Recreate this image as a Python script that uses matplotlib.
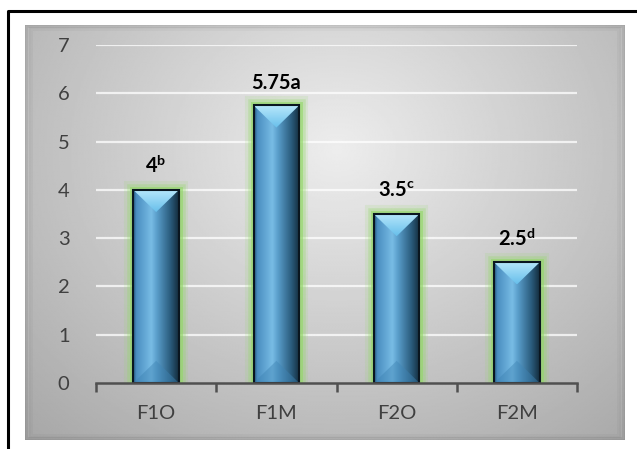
import matplotlib.pyplot as plt
import numpy as np
from matplotlib.colors import LinearSegmentedColormap
from matplotlib.patches import Rectangle, Polygon
from matplotlib.lines import Line2D

plt.rcParams['font.family'] = ['Lato', 'DejaVu Sans']
plt.rcParams['mathtext.fontset'] = 'custom'
plt.rcParams['mathtext.rm'] = 'Lato'
plt.rcParams['mathtext.bf'] = 'Lato:bold'

# data
groups = ['F1O', 'F1M', 'F2O', 'F2M']
values = [4, 5.75, 3.5, 2.5]
letters = ['b', 'a', 'c', 'd']
superscript = [True, False, True, True]

fig = plt.figure(figsize=(6.37, 4.49), dpi=100)
fig.patch.set_facecolor('white')

# grey panel with a radial shading
bg = fig.add_axes([25/637, 1 - 440/449, 600/637, 415/449])
yy, xx = np.mgrid[0:1:300j, 0:1:400j]
r = np.sqrt(((xx - 0.52) / 0.72) ** 2 + ((yy - 0.30) / 0.90) ** 2)
shade = 0.93 - 0.26 * np.clip(r, 0, 1.25)
bg.imshow(shade, cmap='gray', vmin=0, vmax=1, aspect='auto',
          extent=(0, 1, 1, 0), interpolation='bilinear')
bg.set_xlim(0, 1)
bg.set_ylim(1, 0)
bg.axis('off')
# soft edge of the panel
for i, a in enumerate([0.12, 0.08, 0.05, 0.03]):
    d = 0.004 * i
    bg.add_patch(Rectangle((d, d), 1 - 2 * d, 1 - 2 * d, fill=False,
                           ec='black', lw=1.2, alpha=a,
                           transform=bg.transAxes))

# frame on top and left
fig.add_artist(Line2D([8/637, 8/637, 1.0], [0.0, 1 - 11/449, 1 - 11/449],
                      color='black', lw=2.2, transform=fig.transFigure))

ax = fig.add_axes([96/637, 1 - 383/449, 481/637, 338/449])
ax.patch.set_alpha(0)
ax.set_xlim(-0.5, 3.5)
ax.set_ylim(0, 7)

for y in range(1, 8):
    ax.axhline(y, color='white', lw=1.6, alpha=0.75, zorder=1)

body_cmap = LinearSegmentedColormap.from_list('body', [
    (0.0, '#24527a'), (0.07, '#4a8ec0'), (0.40, '#78bce5'),
    (0.52, '#5a9ecb'), (0.82, '#2a5b7c'), (1.0, '#142c3c')])
top_cmap = LinearSegmentedColormap.from_list('tip', ['#68bfeb', '#b8e8fb'])

w = 0.38
d = 0.46
grad = np.linspace(0, 1, 200).reshape(1, -1)
for i, v in enumerate(values):
    x0, x1 = i - w / 2, i + w / 2
    # green glow
    for lw, a in [(13, 0.15), (9, 0.3), (5, 0.6)]:
        ax.bar(i, v, width=w, color='none', edgecolor='#92d866', lw=lw,
               alpha=a, zorder=2)
    rect = Rectangle((x0, 0), w, v, fc='none', ec='none', zorder=3)
    ax.add_patch(rect)
    im = ax.imshow(grad, cmap=body_cmap, aspect='auto',
                   extent=(x0, x1, 0, v), zorder=3, interpolation='bilinear')
    im.set_clip_path(rect)
    # bevel at the top
    tri = Polygon([(x0, v), (x1, v), (i, v - d)], closed=True,
                  fc='none', ec='none', zorder=4)
    ax.add_patch(tri)
    vert = np.linspace(0, 1, 100).reshape(-1, 1)
    tim = ax.imshow(vert, cmap=top_cmap, aspect='auto',
                    extent=(x0, x1, v - d, v), origin='lower', zorder=4)
    tim.set_clip_path(tri)
    # bevel at the bottom
    ax.add_patch(Polygon([(x0, 0), (x1, 0), (i, d)], closed=True,
                         fc='#3f84b4', ec='none', alpha=0.45, zorder=4))
    ax.add_patch(Rectangle((x0, 0), w, v, fc='none', ec='#0a1620',
                           lw=1.5, zorder=5))

    if superscript[i]:
        label = r'$\mathbf{%g}^{\mathbf{%s}}$' % (v, letters[i])
    else:
        label = '%g%s' % (v, letters[i])
    ax.annotate(label, (i, v), xytext=(0, 9), textcoords='offset points',
                ha='center', va='bottom', fontsize=14.5, fontweight='bold',
                color='black', zorder=6)

ax.set_xticks(range(len(groups)))
ax.set_xticklabels(groups)
ax.set_xticks(np.arange(-0.5, 4, 1), minor=True)
ax.set_yticks(range(0, 8))
ax.tick_params(axis='x', which='major', length=0, pad=16, labelsize=14.5,
               labelcolor='#404040')
ax.tick_params(axis='x', which='minor', length=6.5, width=1.8,
               color='#505050', direction='out')
ax.tick_params(axis='y', length=0, pad=19, labelsize=14.5, labelcolor='#404040')
for s in ['top', 'right', 'left']:
    ax.spines[s].set_visible(False)
ax.spines['bottom'].set_color('#505050')
ax.spines['bottom'].set_linewidth(1.8)
ax.spines['bottom'].set_zorder(7)

fig.savefig('out.png', dpi=100)
